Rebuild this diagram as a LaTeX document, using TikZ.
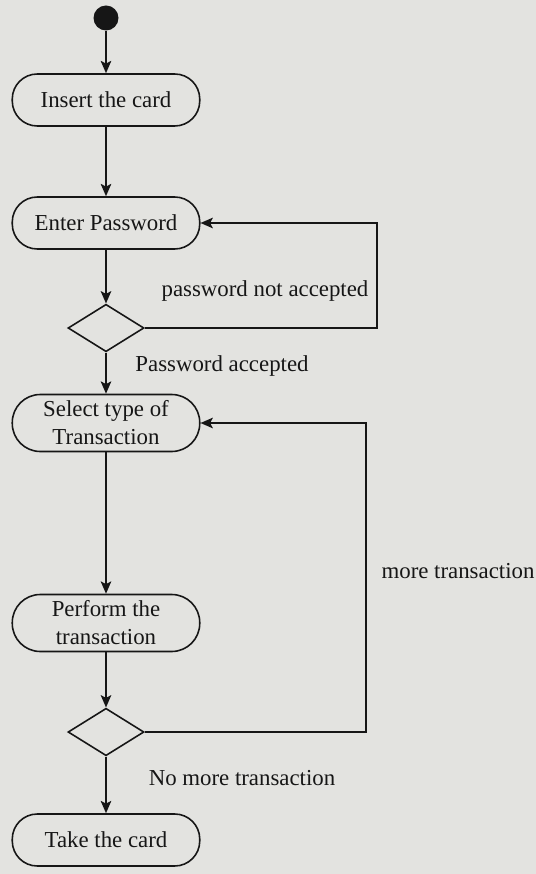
\documentclass[tikz,border=0pt]{standalone}
\usepackage{fontspec}
\setmainfont{Liberation Serif}
\usetikzlibrary{shapes.geometric,arrows.meta}
\definecolor{paper}{HTML}{E3E3E0}
\definecolor{ink}{HTML}{161616}
\begin{document}
\begin{tikzpicture}[x=0.02cm,y=-0.02cm,
  every node/.style={text=ink,font=\fontsize{13}{16}\selectfont},
  activity/.style={draw=ink,line width=0.9pt,rectangle,rounded corners=0.5cm,
    minimum width=3.75cm,minimum height=1.04cm,inner sep=0pt,align=center},
  twoline/.style={activity,minimum height=1.14cm,rounded corners=0.56cm},
  decision/.style={draw=ink,line width=0.9pt,diamond,minimum width=1.52cm,
    minimum height=0.95cm,inner sep=0pt},
  flow/.style={draw=ink,line width=0.9pt,-{Stealth[length=7pt,width=6pt,inset=1.5pt]}},
  lbl/.style={inner sep=0pt}]
  % page background
  \fill[paper] (0,0) rectangle (536,874);
  \useasboundingbox (0,0) rectangle (536,874);

  % nodes, all on one vertical axis
  \node[circle,fill=ink,minimum size=0.5cm,inner sep=0pt] (start) at (106,18) {};
  \node[activity] (insert) at (106,100) {Insert the card};
  \node[activity] (pwd) at (106,223) {Enter Password};
  \node[decision] (d1) at (106,328) {};
  \node[twoline] (select) at (106,423) {Select type of\\Transaction};
  \node[twoline] (perform) at (106,623) {Perform the\\transaction};
  \node[decision] (d2) at (106,732) {};
  \node[activity] (take) at (106,840) {Take the card};

  \coordinate (r1) at (377,328);
  \coordinate (r2) at (366,732);

  % connectors
  \draw[flow] (start) -- (insert);
  \draw[flow] (insert) -- (pwd);
  \draw[flow] (pwd) -- (d1);
  \draw[flow] (d1) -- (select);
  \draw[flow] (select) -- (perform);
  \draw[flow] (perform) -- (d2);
  \draw[flow] (d2) -- (take);
  \draw[flow] (d1.east) -- (r1) |- (pwd.east);
  \draw[flow] (d2.east) -- (r2) |- (select.east);

  % guard labels
  \node[lbl] (l1) at (265,291) {password not accepted};
  \node[lbl] (l2) at (222,366) {Password accepted};
  \node[lbl] (l3) at (458,571) {more transaction};
  \node[lbl] (l4) at (242,778) {No more transaction};
\end{tikzpicture}
\end{document}
